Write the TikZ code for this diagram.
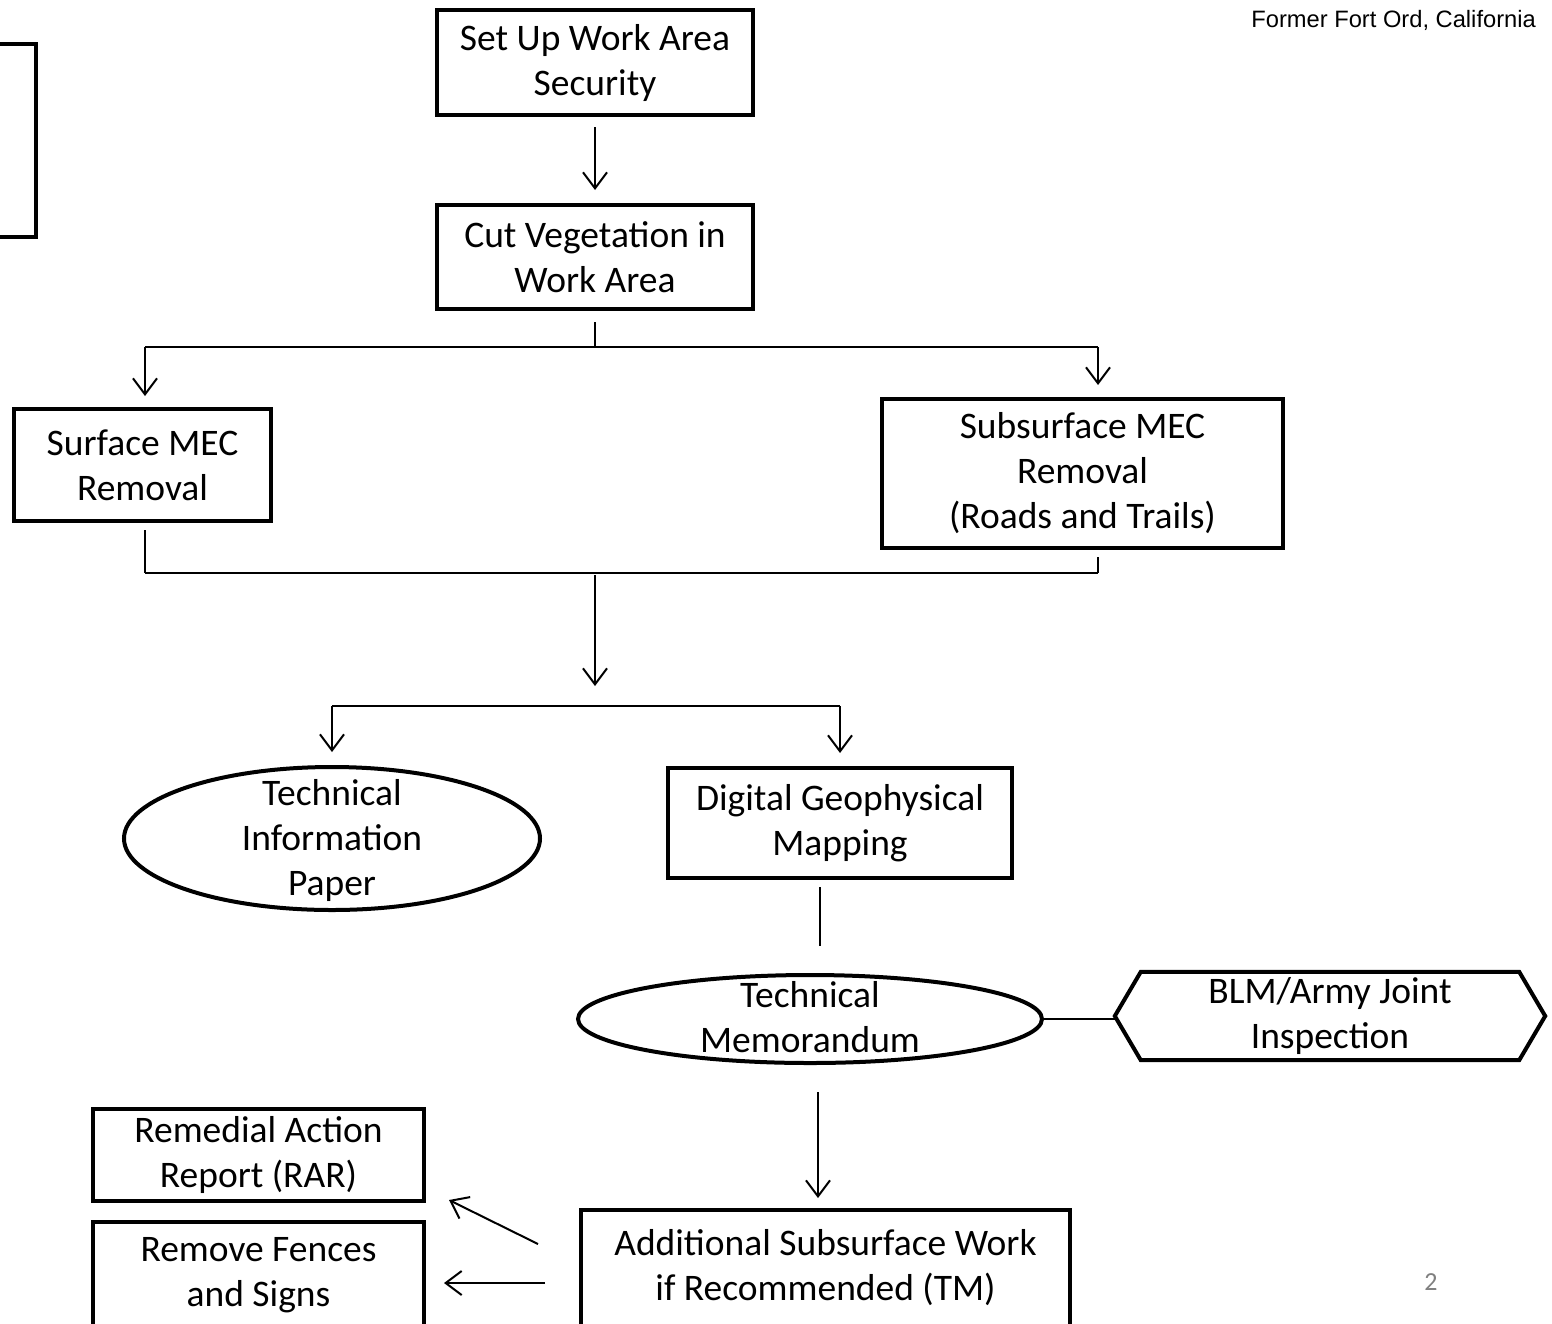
\documentclass[tikz,border=0pt]{standalone}
\usepackage{fontspec}
\setmainfont{Carlito}
\newfontfamily\arialf{Liberation Sans}
\usetikzlibrary{arrows.meta,shapes.geometric,calc}
\begin{document}
\begin{tikzpicture}[x=1pt,y=-1pt,
  txt/.style={inner sep=0pt,align=center,font=\fontsize{37.5}{45}\selectfont},
  box/.style={txt,draw,line width=4pt},
  oval/.style={ellipse,draw,line width=4pt,inner sep=0pt},
  conn/.style={line width=2pt},
  arr/.style={line width=2pt,-{Straight Barb[length=16pt,width=24pt,line width=2pt]}}]
\useasboundingbox (0,0) rectangle (1552,1323);
\clip (0,0) rectangle (1552,1323);
\fill[white] (0,0) rectangle (1552,1323);

% partial box at left edge
\draw[line width=4pt] (-20,44) -- (36,44) -- (36,237) -- (-20,237);

\node[box,minimum width=316,minimum height=105] (setup) at (595,62.5) {Set Up Work Area\\Security};
\node[box,minimum width=316,minimum height=104] (cut) at (595,257) {Cut Vegetation in\\Work Area};
\node[box,minimum width=257,minimum height=112] (surface) at (142.5,465) {Surface MEC\\Removal};
\node[box,minimum width=401,minimum height=149] (subsurf) at (1082.5,473.5) {Subsurface MEC\\Removal\\(Roads and Trails)};
\node[oval,minimum width=416,minimum height=143] (tip) at (332,838.5) {};
\node[txt] (tiptext) at (332,840) {Technical\\Information\\Paper};
\node[box,minimum width=344,minimum height=110] (dgm) at (840,823) {Digital Geophysical\\Mapping};
\node[oval,minimum width=464,minimum height=88] (memo) at (810,1019) {};
\node[txt] (memotext) at (810,1017) {Technical\\Memorandum};
\node[txt,minimum width=430,minimum height=88] (hex) at (1330,1016) {BLM/Army Joint\\Inspection};
\draw[line width=4pt,line join=miter] (hex.west) -- ($(hex.north west)+(26,0)$) -- ($(hex.north east)+(-26,0)$) -- (hex.east) -- ($(hex.south east)+(-26,0)$) -- ($(hex.south west)+(26,0)$) -- cycle;
\node[box,minimum width=489,minimum height=116] (add) at (825.5,1268) {Additional Subsurface Work\\if Recommended (TM)};
\node[box,minimum width=331,minimum height=92] (rar) at (258.5,1155) {Remedial Action\\Report (RAR)};
\node[box,minimum width=331,minimum height=106] (fences) at (258.5,1275) {Remove Fences\\and Signs};

\node[anchor=east,inner sep=0pt,font=\arialf\fontsize{23.7}{26}\selectfont] (title) at (1536,20) {Former Fort Ord, California};
\node[inner sep=0pt,text=black!50,font=\fontsize{26}{30}\selectfont] (pnum) at (1431,1282) {2};

% connectors
\draw[arr,shorten <=10pt,shorten >=13pt] (setup) -- (cut);
\coordinate (j1) at (595,347);
\coordinate (j1l) at (145,347);
\coordinate (j1r) at (1098,347);
\draw[conn,shorten <=11pt] (cut.south) -- (j1);
\draw[conn] (j1l) -- (j1r);
\draw[arr,shorten >=11pt] (j1l) -- (j1l |- surface.north);
\draw[arr,shorten >=12pt] (j1r) -- (j1r |- subsurf.north);

\coordinate (j2) at (595,573);
\coordinate (j2l) at (145,573);
\coordinate (j2r) at (1098,573);
\draw[conn,shorten <=7pt] (j2l |- surface.south) -- (j2l);
\draw[conn,shorten <=7pt] (j2r |- subsurf.south) -- (j2r);
\draw[conn] (j2l) -- (j2r);

\coordinate (j3) at (595,706);
\coordinate (j3l) at (332,706);
\coordinate (j3r) at (840,706);
\draw[arr,shorten <=2pt,shorten >=20pt] (j2) -- (j3);
\draw[conn] (j3l) -- (j3r);
\draw[arr,shorten >=13pt] (j3l) -- (tip.north);
\draw[arr,shorten >=13pt] (j3r) -- (dgm.north);

\draw[conn] ($(dgm.south)+(-20,7)$) -- ($(memo.north)+(10,-27)$);
\draw[conn] (memo.east) -- (memo.east -| hex.west);
\draw[arr] ($(memo.south)+(8,27)$) -- ($(add.north)+(-7.5,-10)$);
\draw[arr] ($(add.west)+(-41,-24)$) -- ($(rar.east)+(23,45)$);
\draw[arr] ($(add.west)+(-34,15)$) -- ($(fences.east)+(18,8)$);
\end{tikzpicture}
\end{document}
